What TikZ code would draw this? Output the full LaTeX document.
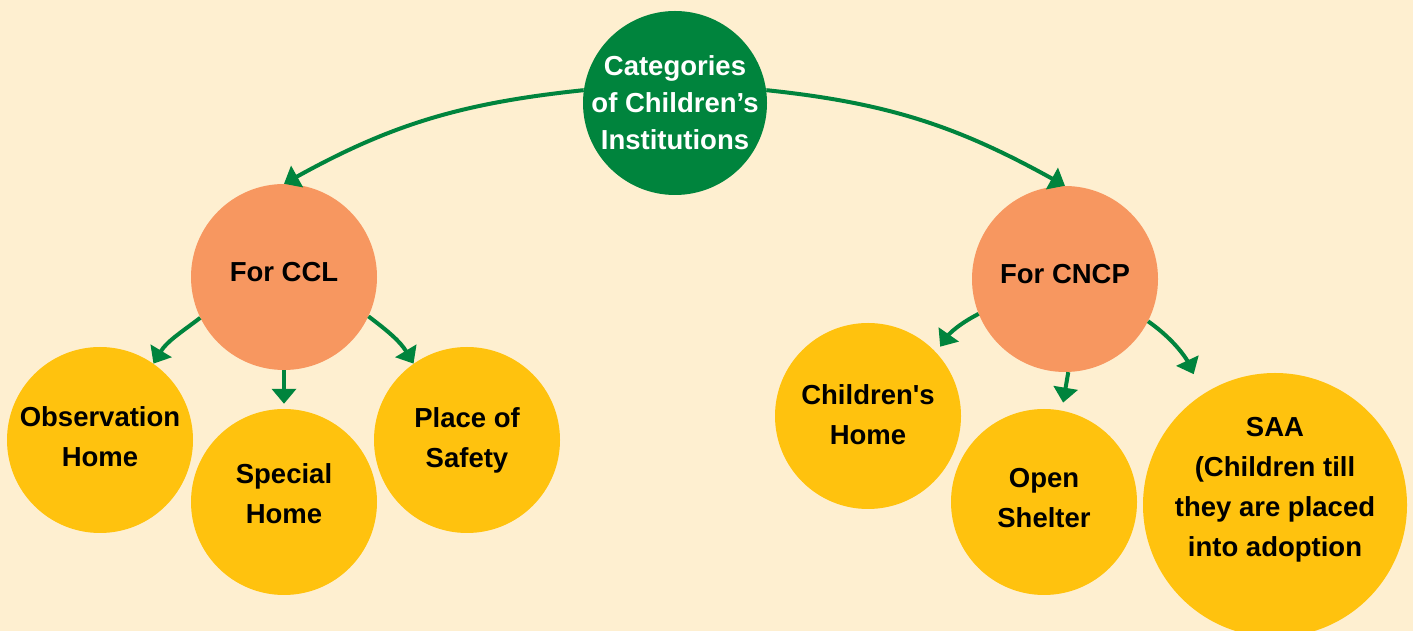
\documentclass[tikz,border=0pt]{standalone}
\usepackage{fontspec}
\setmainfont{Liberation Sans}
\usetikzlibrary{arrows.meta}

\definecolor{bgcream}{RGB}{254,239,208}
\definecolor{leafgreen}{RGB}{0,132,61}
\definecolor{salmon}{RGB}{247,151,96}
\definecolor{sunyellow}{RGB}{255,194,14}

\begin{document}
\begin{tikzpicture}[x=1pt,y=1pt,
  disc/.style={circle, minimum size=#1, inner sep=0pt, draw=none},
  rootdisc/.style={disc=184pt, fill=leafgreen},
  groupdisc/.style={disc=186pt, fill=salmon},
  leafdisc/.style={disc=186pt, fill=sunyellow},
  bigleaf/.style={disc=264pt, fill=sunyellow},
  lbl/.style={font=\bfseries\fontsize{27.5}{40}\selectfont, align=center, text=black, inner sep=0pt},
  rootlbl/.style={font=\bfseries\fontsize{27.5}{37}\selectfont, align=center, text=white, inner sep=0pt},
  link/.style={draw=leafgreen, line width=4pt, -{Triangle[width=24pt,length=15pt]}}]

% page background
\fill[bgcream] (0,0) rectangle (1413,631);
\useasboundingbox (0,0) rectangle (1413,631);

% circles
\node[rootdisc]  (root) at (675,528) {};
\node[groupdisc] (ccl)  at (284,354) {};
\node[groupdisc] (cncp) at (1065,352) {};
\node[leafdisc]  (obs)  at (100,191) {};
\node[leafdisc]  (spec) at (284,129) {};
\node[leafdisc]  (pos)  at (467,191) {};
\node[leafdisc]  (chh)  at (868,215) {};
\node[leafdisc]  (osh)  at (1044,129) {};
\node[bigleaf]   (saa)  at (1275,126) {};

% labels
\node[rootlbl] (root-t) at (root.center) {Categories\\of Children’s\\Institutions};
\node[lbl] (ccl-t)  at ([yshift=5]ccl.center)  {For CCL};
\node[lbl] (cncp-t) at ([yshift=5]cncp.center) {For CNCP};
\node[lbl] (obs-t)  at ([yshift=3]obs.center)  {Observation\\Home};
\node[lbl] (spec-t) at ([yshift=8]spec.center) {Special\\Home};
\node[lbl] (pos-t)  at (pos.center)            {Place of\\Safety};
\node[lbl] (chh-t)  at ([yshift=1.5]chh.center) {Children\textquotesingle s\\Home};
\node[lbl] (osh-t)  at ([yshift=4]osh.center)  {Open\\Shelter};
\node[lbl] (saa-t)  at ([yshift=15]saa.center) {SAA\\(Children till\\they are placed\\into adoption};

% connectors
\draw[link] (root.172) to[out=186,in=29] (ccl.north);
\draw[link] (root.8) to[out=-6,in=151] (cncp.north);

\draw[link] (ccl.206) to[out=217,in=59] (obs.55);
\draw[link, shorten >=5pt] (ccl.south) -- (spec.north);
\draw[link] (ccl.-25) to[out=-37,in=121] (pos.125);

\draw[link, shorten >=7pt] (cncp.202) to[out=207,in=55] (chh.43);
\draw[link, shorten >=8pt] (cncp.-88) -- (osh.79);
\draw[link, shorten >=22pt] (cncp.-27) to[out=-35,in=115] (saa.123);
\end{tikzpicture}
\end{document}
